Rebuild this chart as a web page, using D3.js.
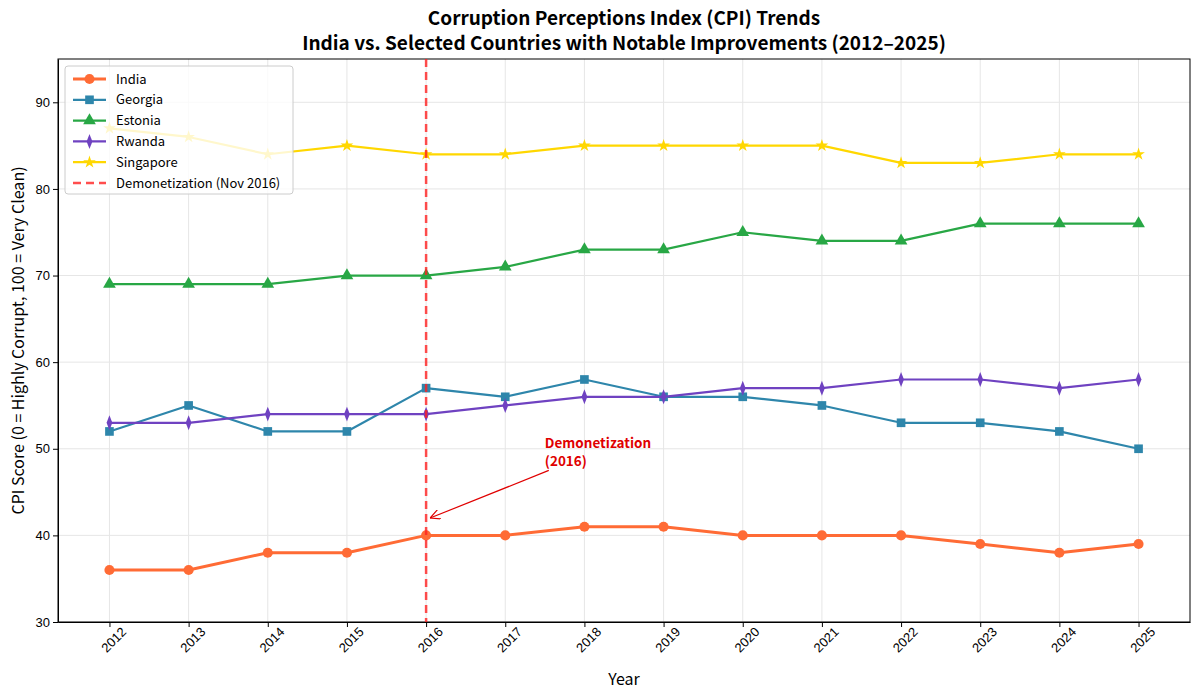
<!DOCTYPE html>
<html>
<head>
<meta charset="utf-8">
<script src="https://cdn.jsdelivr.net/npm/d3@7"></script>
<style>
  body { margin: 0; background: #fff; }
  svg { font-family: "Noto Sans CJK JP", "Noto Sans", sans-serif; }
  .grid line { stroke: #e6e6e6; stroke-width: 1; }
  .axis path, .axis line { stroke: #000; }
  .axis text { font-size: 13px; fill: #000; }
</style>
</head>
<body>
<div id="chart"></div>
<script>
// Data
var years = [2012, 2013, 2014, 2015, 2016, 2017, 2018, 2019, 2020, 2021, 2022, 2023, 2024, 2025];
var india     = [36, 36, 38, 38, 40, 40, 41, 41, 40, 40, 40, 39, 38, 39];
var georgia   = [52, 55, 52, 52, 57, 56, 58, 56, 56, 55, 53, 53, 52, 50];
var estonia   = [69, 69, 69, 70, 70, 71, 73, 73, 75, 74, 74, 76, 76, 76];
var rwanda    = [53, 53, 54, 54, 54, 55, 56, 56, 57, 57, 58, 58, 57, 58];
var singapore = [87, 86, 84, 85, 84, 84, 85, 85, 85, 85, 83, 83, 84, 84];
var yTicks = [30, 40, 50, 60, 70, 80, 90];
var demoYear = 2016;

var series = [
  { name: "India", values: india, color: "#FF6B35", width: 3, marker: "circle" },
  { name: "Georgia", values: georgia, color: "#2E86AB", width: 2.2, marker: "square" },
  { name: "Estonia", values: estonia, color: "#28A745", width: 2.2, marker: "triangle" },
  { name: "Rwanda", values: rwanda, color: "#6F42C1", width: 2.2, marker: "diamond" },
  { name: "Singapore", values: singapore, color: "#FFD700", width: 2.2, marker: "star" }
];

var W = 1200, H = 697;
var margin = { top: 59, right: 10, bottom: 75, left: 58 };
var width = W - margin.left - margin.right;
var height = H - margin.top - margin.bottom;

var svg = d3.select("#chart").append("svg")
    .attr("width", W)
    .attr("height", H);

// Title, two lines
var titleLines = ["Corruption Perceptions Index (CPI) Trends",
  "India vs. Selected Countries with Notable Improvements (2012\u20132025)"];
svg.selectAll("text.title").data(titleLines).enter().append("text")
    .attr("class", "title")
    .attr("x", margin.left + width / 2)
    .attr("y", function(d, i) { return 25 + i * 25; })
    .attr("text-anchor", "middle")
    .attr("font-weight", "bold")
    .attr("font-size", "19px")
    .text(function(d) { return d; });

var g = svg.append("g")
    .attr("transform", "translate(" + margin.left + "," + margin.top + ")");

var x = d3.scaleLinear()
    .domain([years[0] - 0.65, years[years.length - 1] + 0.65])
    .range([0, width]);

var y = d3.scaleLinear()
    .domain([30, 95])
    .range([height, 0]);

// Grid
g.append("g").attr("class", "grid")
  .selectAll("line.v").data(years).enter().append("line")
    .attr("x1", function(d) { return x(d); })
    .attr("x2", function(d) { return x(d); })
    .attr("y1", 0).attr("y2", height);
g.append("g").attr("class", "grid")
  .selectAll("line.h").data(yTicks).enter().append("line")
    .attr("x1", 0).attr("x2", width)
    .attr("y1", function(d) { return y(d); })
    .attr("y2", function(d) { return y(d); });

// Axes
var xAxis = g.append("g")
    .attr("class", "axis")
    .attr("transform", "translate(0," + height + ")")
    .call(d3.axisBottom(x).tickValues(years).tickFormat(d3.format("d")).tickSize(5).tickSizeOuter(0));
xAxis.selectAll("text")
    .attr("text-anchor", "end")
    .attr("dx", "0.35em")
    .attr("dy", "0.9em")
    .attr("transform", "rotate(-45)");

g.append("g")
    .attr("class", "axis")
    .call(d3.axisLeft(y).tickValues(yTicks).tickSize(5).tickSizeOuter(0));

// Frame
g.append("rect")
    .attr("width", width).attr("height", height)
    .attr("fill", "none").attr("stroke", "#000").attr("stroke-width", 1);

// Axis labels
svg.append("text")
    .attr("x", margin.left + width / 2)
    .attr("y", H - 12)
    .attr("text-anchor", "middle")
    .attr("font-size", "16px")
    .text("Year");
svg.append("text")
    .attr("transform", "translate(24," + (margin.top + height / 2) + ") rotate(-90)")
    .attr("text-anchor", "middle")
    .attr("font-size", "16px")
    .text("CPI Score (0 = Highly Corrupt, 100 = Very Clean)");

var symbols = {
  circle: d3.symbolCircle,
  square: d3.symbolSquare,
  triangle: d3.symbolTriangle,
  diamond: d3.symbolDiamond,
  star: d3.symbolStar
};
var sizes = { circle: 80, square: 75, triangle: 70, diamond: 45, star: 50 };

function symbolPath(s) {
  return d3.symbol().type(symbols[s.marker]).size(sizes[s.marker])();
}

function symbolScale(s) {
  return s.marker === "diamond" ? " scale(0.8,1.2)" : "";
}

var line = d3.line()
    .x(function(d, i) { return x(years[i]); })
    .y(function(d) { return y(d); });

series.forEach(function(s) {
  g.append("path")
      .datum(s.values)
      .attr("fill", "none")
      .attr("stroke", s.color)
      .attr("stroke-width", s.width)
      .attr("stroke-linejoin", "round")
      .attr("d", line);
  var p = symbolPath(s);
  g.append("g").selectAll("path")
      .data(s.values).enter().append("path")
      .attr("d", p)
      .attr("fill", s.color)
      .attr("transform", function(d, i) {
        return "translate(" + x(years[i]) + "," + y(d) + ")" + symbolScale(s);
      });
});

// Demonetization line
g.append("line")
    .attr("x1", x(demoYear)).attr("x2", x(demoYear))
    .attr("y1", 0).attr("y2", height)
    .attr("stroke", "#FF2020").attr("stroke-opacity", 0.8)
    .attr("stroke-width", 2.5)
    .attr("stroke-dasharray", "8,5");

// Annotation
var defs = svg.append("defs");
defs.append("marker")
    .attr("id", "arrow")
    .attr("viewBox", "0 0 10 10")
    .attr("refX", 10).attr("refY", 5)
    .attr("markerWidth", 10).attr("markerHeight", 10)
    .attr("markerUnits", "userSpaceOnUse")
    .attr("orient", "auto")
  .append("path")
    .attr("d", "M0,0 L10,5 L0,10")
    .attr("fill", "none")
    .attr("stroke", "#E00000")
    .attr("stroke-width", 1.2);

g.append("line")
    .attr("x1", x(2017.55)).attr("y1", y(47.5))
    .attr("x2", x(2016.05)).attr("y2", y(42))
    .attr("stroke", "#E00000")
    .attr("stroke-width", 1.2)
    .attr("marker-end", "url(#arrow)");

var annLines = ["Demonetization", "(2016)"];
g.selectAll("text.ann").data(annLines).enter().append("text")
    .attr("class", "ann")
    .attr("x", x(2017.5))
    .attr("y", function(d, i) { return y(48) - (annLines.length - 1 - i) * 18; })
    .attr("fill", "#E00000")
    .attr("font-weight", "bold")
    .attr("font-size", "13.5px")
    .text(function(d) { return d; });

// Legend
var legendItems = series.map(function(s) { return s; })
    .concat([{ name: "Demonetization (Nov 2016)", color: "#FF2020", dashed: true }]);
var legend = g.append("g").attr("transform", "translate(7,7)");
legend.append("rect")
    .attr("width", 228).attr("height", 128)
    .attr("rx", 3)
    .attr("fill", "#fff").attr("fill-opacity", 0.8)
    .attr("stroke", "#ccc");
var li = legend.selectAll("g.item").data(legendItems).enter().append("g")
    .attr("transform", function(d, i) { return "translate(8," + (13 + i * 20.8) + ")"; });
li.append("line")
    .attr("x1", 0).attr("x2", 33)
    .attr("stroke", function(d) { return d.color; })
    .attr("stroke-opacity", function(d) { return d.dashed ? 0.8 : 1; })
    .attr("stroke-width", function(d) { return d.width || 2.5; })
    .attr("stroke-dasharray", function(d) { return d.dashed ? "8,5" : null; });
li.filter(function(d) { return !d.dashed; }).append("path")
    .attr("d", function(d) { return symbolPath(d); })
    .attr("fill", function(d) { return d.color; })
    .attr("transform", function(d) { return "translate(16.5,0)" + symbolScale(d); });
li.append("text")
    .attr("x", 43)
    .attr("dy", "0.35em")
    .attr("font-size", "13px")
    .text(function(d) { return d.name; });
</script>
</body>
</html>
